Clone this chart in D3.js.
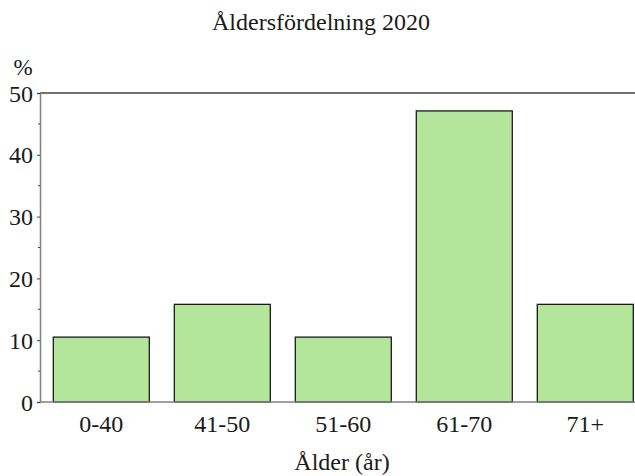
<!DOCTYPE html>
<html>
<head>
<meta charset="utf-8">
<script src="https://cdn.jsdelivr.net/npm/d3@7"></script>
<style>
  html, body { margin: 0; padding: 0; background: #fff; }
  svg text { font-family: "Liberation Serif", "Times New Roman", Times, serif !important; }
</style>
</head>
<body>
<svg id="chart" width="635" height="476"></svg>
<script>
// Age distribution, share of members per age group (%)
const categories = ["0-40", "41-50", "51-60", "61-70", "71+"];
const values = [10.5, 15.8, 10.5, 47.1, 15.8];
const majorTicks = [0, 10, 20, 30, 40, 50];
const minorTicks = [5, 15, 25, 35, 45];

const title = "Åldersfördelning 2020";
const xTitle = "Ålder (år)";
const yUnit = "%";

const svg = d3.select("#chart");
const plotLeft = 40, plotTop = 93, plotBottom = 402, plotRight = 646.6;

const x = d3.scaleBand()
  .domain(categories)
  .range([plotLeft, plotRight])
  .paddingInner(0.2066)
  .paddingOuter(0.11);

const y = d3.scaleLinear().domain([0, 50]).range([plotBottom, plotTop]);

// frame line along the top of the plot
svg.append("line")
  .attr("x1", plotLeft).attr("x2", 635)
  .attr("y1", y(50)).attr("y2", y(50))
  .attr("stroke", "#404040").attr("stroke-width", 1.5);

// bars
svg.append("g").selectAll("rect")
  .data(values)
  .join("rect")
  .attr("x", (d, i) => x(categories[i]))
  .attr("y", d => y(d))
  .attr("width", x.bandwidth())
  .attr("height", d => y(0) - y(d))
  .attr("fill", "#b3e59b")
  .attr("stroke", "#1a1a1a")
  .attr("stroke-width", 1.3);

// y axis with minor ticks
const yAxis = svg.append("g").attr("transform", `translate(${plotLeft},0)`)
  .call(d3.axisLeft(y).tickValues(majorTicks).tickSize(3).tickPadding(4).tickFormat(d3.format("d")));
yAxis.select(".domain").attr("stroke", "#808080").attr("stroke-width", 1.5);
yAxis.selectAll(".tick line").attr("stroke", "#404040");
yAxis.selectAll(".tick text")
  .attr("font-size", 24).attr("fill", "#1a1a1a").attr("dy", "0.34em");
svg.append("g").selectAll("line")
  .data(minorTicks)
  .join("line")
  .attr("x1", plotLeft - 2).attr("x2", plotLeft)
  .attr("y1", d => y(d)).attr("y2", d => y(d))
  .attr("stroke", "#404040");

// x axis
const xAxis = svg.append("g").attr("transform", `translate(0,${plotBottom})`)
  .call(d3.axisBottom(x).tickSize(0).tickPadding(0));
xAxis.select(".domain").attr("stroke", "#808080").attr("stroke-width", 1.5)
  .attr("d", `M${plotLeft},0H635`);
xAxis.selectAll(".tick text")
  .attr("y", 30).attr("dy", null)
  .attr("font-size", 24).attr("fill", "#1a1a1a");

// titles
svg.append("text")
  .attr("x", 321).attr("y", 30)
  .attr("text-anchor", "middle")
  .attr("font-size", 24).attr("fill", "#1a1a1a")
  .text(title);

svg.append("text")
  .attr("x", 23).attr("y", 75)
  .attr("text-anchor", "middle")
  .attr("font-size", 23).attr("fill", "#1a1a1a")
  .text(yUnit);

svg.append("text")
  .attr("x", 342).attr("y", 470)
  .attr("text-anchor", "middle")
  .attr("font-size", 24).attr("fill", "#1a1a1a")
  .text(xTitle);
</script>
</body>
</html>
